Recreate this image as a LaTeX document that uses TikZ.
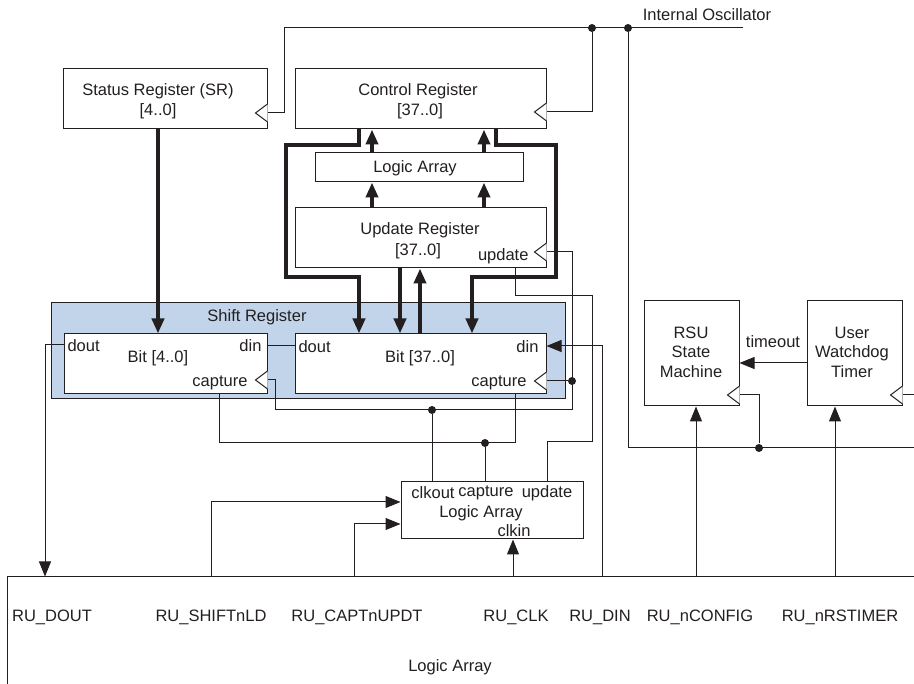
\documentclass[tikz,border=0pt]{standalone}
\usepackage{fontspec}
\setmainfont{Liberation Sans}
\usetikzlibrary{arrows.meta}
\definecolor{ln}{HTML}{231F20}
\definecolor{srblue}{RGB}{193,212,233}
\newcommand\clocktri[1]{\draw[wire,fill=white] ([yshift=9pt]#1) -- ++(-12,9) -- ++(12,9);}
\begin{document}
\begin{tikzpicture}[x=1pt,y=-1pt,color=ln,line width=1pt,
  box/.style={draw,fill=white,inner sep=0pt,line width=1pt},
  wire/.style={line width=1pt},
  bus/.style={line width=4pt},
  tip/.style={-{Triangle[width=12pt,length=15pt]}},
  lbl/.style={font=\fontsize{16.5}{19}\selectfont,inner sep=0pt},
  dot/.style={circle,fill,inner sep=0pt,minimum size=8pt}]
\useasboundingbox (0,0) rectangle (914,684);
\clip (0,0) rectangle (914,684);

% boxes
\node[box,minimum width=204pt,minimum height=60pt] (sr) at (165,99) {};
\node[box,minimum width=251pt,minimum height=60pt] (cr) at (420.5,99) {};
\node[box,minimum width=208pt,minimum height=29pt] (la1) at (419,167.5) {};
\node[box,minimum width=251pt,minimum height=60pt] (ur) at (420.5,238) {};
\node[box,fill=srblue,minimum width=514pt,minimum height=96pt] (shift) at (308,351) {};
\node[box,minimum width=203pt,minimum height=60pt] (b4) at (165.5,364) {};
\node[box,minimum width=251pt,minimum height=60pt] (b37) at (420.5,364) {};
\node[box,minimum width=182pt,minimum height=57pt] (la2) at (492,510.5) {};
\node[box,minimum width=95pt,minimum height=105pt] (rsu) at (691.5,353.5) {};
\node[box,minimum width=95pt,minimum height=105pt] (wdt) at (854.5,353.5) {};
\node[box,minimum width=923pt,minimum height=123pt] (la3) at (468.5,638.5) {};

% texts
\node[lbl] (tosc) at (707,15) {Internal Oscillator};
\node[lbl] (tsr1) at (158,91) {Status Register (SR)};
\node[lbl] (tsr2) at (158,111) {[4..0]};
\node[lbl] (tcr1) at (418,91) {Control Register};
\node[lbl] (tcr2) at (420,111) {[37..0]};
\node[lbl] (tla1) at (415,168) {Logic Array};
\node[lbl] (tur1) at (420,230) {Update Register};
\node[lbl] (tur2) at (418,251) {[37..0]};
\node[lbl,anchor=east] (tur3) at (529,256) {update};
\node[lbl] (tsh) at (257,317) {Shift Register};
\node[lbl,anchor=west] (tb4a) at (67,346) {dout};
\node[lbl] (tb4b) at (158,358) {Bit [4..0]};
\node[lbl,anchor=east] (tb4c) at (262,346) {din};
\node[lbl,anchor=east] (tb4d) at (248,383) {capture};
\node[lbl,anchor=west] (tb37a) at (298,347) {dout};
\node[lbl] (tb37b) at (420,358) {Bit [37..0]};
\node[lbl,anchor=east] (tb37c) at (539,347) {din};
\node[lbl,anchor=east] (tb37d) at (527,383) {capture};
\node[lbl] (tla2a) at (433,493) {clkout};
\node[lbl] (tla2b) at (486,493) {capture};
\node[lbl] (tla2c) at (547,493) {update};
\node[lbl] (tla2d) at (481,513) {Logic Array};
\node[lbl] (tla2e) at (514,531) {clkin};
\node[lbl,align=center,font=\fontsize{16.5}{19.5}\selectfont] (trsu) at (691,352) {RSU\\State\\Machine};
\node[lbl,align=center,font=\fontsize{16.5}{19.5}\selectfont] (twdt) at (852,352) {User\\Watchdog\\Timer};
\node[lbl] (tto) at (773,342) {timeout};
\node[lbl] (tp1) at (52,617) {RU\_DOUT};
\node[lbl] (tp2) at (211,617) {RU\_SHIFTnLD};
\node[lbl] (tp3) at (357,617) {RU\_CAPTnUPDT};
\node[lbl] (tp4) at (516,617) {RU\_CLK};
\node[lbl] (tp5) at (600,617) {RU\_DIN};
\node[lbl] (tp6) at (700,617) {RU\_nCONFIG};
\node[lbl] (tp7) at (840,617) {RU\_nRSTIMER};
\node[lbl] (tla3) at (450,667) {Logic Array};

% ports
\coordinate (srclk) at (sr.east |- 0,113);
\coordinate (crclk) at (cr.east |- 0,112);
\coordinate (urclk) at (ur.east |- 0,252);
\coordinate (b4clk) at (b4.east |- 0,380);
\coordinate (b37clk) at (b37.east |- 0,381);
\coordinate (rsuclk) at (rsu.east |- 0,395);
\coordinate (wdtclk) at (wdt.east |- 0,395);
\coordinate (oscend) at (743,28);
\coordinate (rightend) at (914,448);
\coordinate (wdtend) at (914,395);

% dots
\node[dot] (d1) at (592,28) {};
\node[dot] (d2) at (628,28) {};
\node[dot] (d3) at (759,448) {};
\node[dot] (d4) at (572,381) {};
\node[dot] (d5) at (432,410) {};
\node[dot] (d6) at (485,443) {};

% oscillator net
\draw[wire] (srclk) -- ++(17,0) |- (oscend);
\draw[wire] (crclk) -| (d1);
\draw[wire] (d2) |- (rightend);
\draw[wire] (rsuclk) -| (d3);
\draw[wire] (wdtclk) -- (wdtend);

% buses
\draw[bus,tip] (sr.south -| 158,0) -- (b4.north -| 158,0);
\draw[bus,tip] (la1.north -| 372,0) -- (cr.south -| 372,0);
\draw[bus,tip] (la1.north -| 484,0) -- (cr.south -| 484,0);
\draw[bus,tip] (ur.north -| 372,0) -- (la1.south -| 372,0);
\draw[bus,tip] (ur.north -| 484,0) -- (la1.south -| 484,0);
\draw[bus,tip] (cr.south -| 359,0) |- (286,145) |- (359,277) -- (b37.north -| 359,0);
\draw[bus,tip] (cr.south -| 496,0) |- (556,145) |- (472,277) -- (b37.north -| 472,0);
\draw[bus,tip] (ur.south -| 400,0) -- (b37.north -| 400,0);
\draw[bus,tip] (b37.north -| 420,0) -- (ur.south -| 420,0);

% shift register data
\draw[wire] (b4.east |- 0,346) -- (b37.west |- 0,346);
\draw[wire,tip] (b4.west |- 0,345) -| (la3.north -| 45,0);
\draw[wire,tip] (la3.north -| 602,0) |- (b37.east |- 0,346);

% clock net
\draw[wire] (urclk) -| (572,410) -| (275,380) -- (b4clk);
\draw[wire] (b37clk) -- (d4);
\draw[wire] (d5) -- (la2.north -| d5);

% capture net
\draw[wire] (b4.south -| 219,0) |- (515,443) -- (b37.south -| 515,0);
\draw[wire] (d6) -- (la2.north -| d6);

% update net
\draw[wire] (ur.south -| 515,0) |- (592,296) |- (547,442) -- (la2.north -| 547,0);

% logic array inputs
\draw[wire,tip] (la3.north -| 211,0) |- (la2.west |- 0,502);
\draw[wire,tip] (la3.north -| 354,0) |- (la2.west |- 0,524);
\draw[wire,tip] (la3.north -| 513,0) -- (la2.south -| 513,0);

% RSU / watchdog
\draw[wire,tip] (la3.north -| 696,0) -- (rsu.south -| 696,0);
\draw[wire,tip] (la3.north -| 835,0) -- (wdt.south -| 835,0);
\draw[wire,tip] (wdt.west |- 0,363) -- (rsu.east |- 0,363);

% clock triangles
\clocktri{srclk}
\clocktri{crclk}
\clocktri{urclk}
\clocktri{b4clk}
\clocktri{b37clk}
\clocktri{rsuclk}
\clocktri{wdtclk}
\end{tikzpicture}
\end{document}
